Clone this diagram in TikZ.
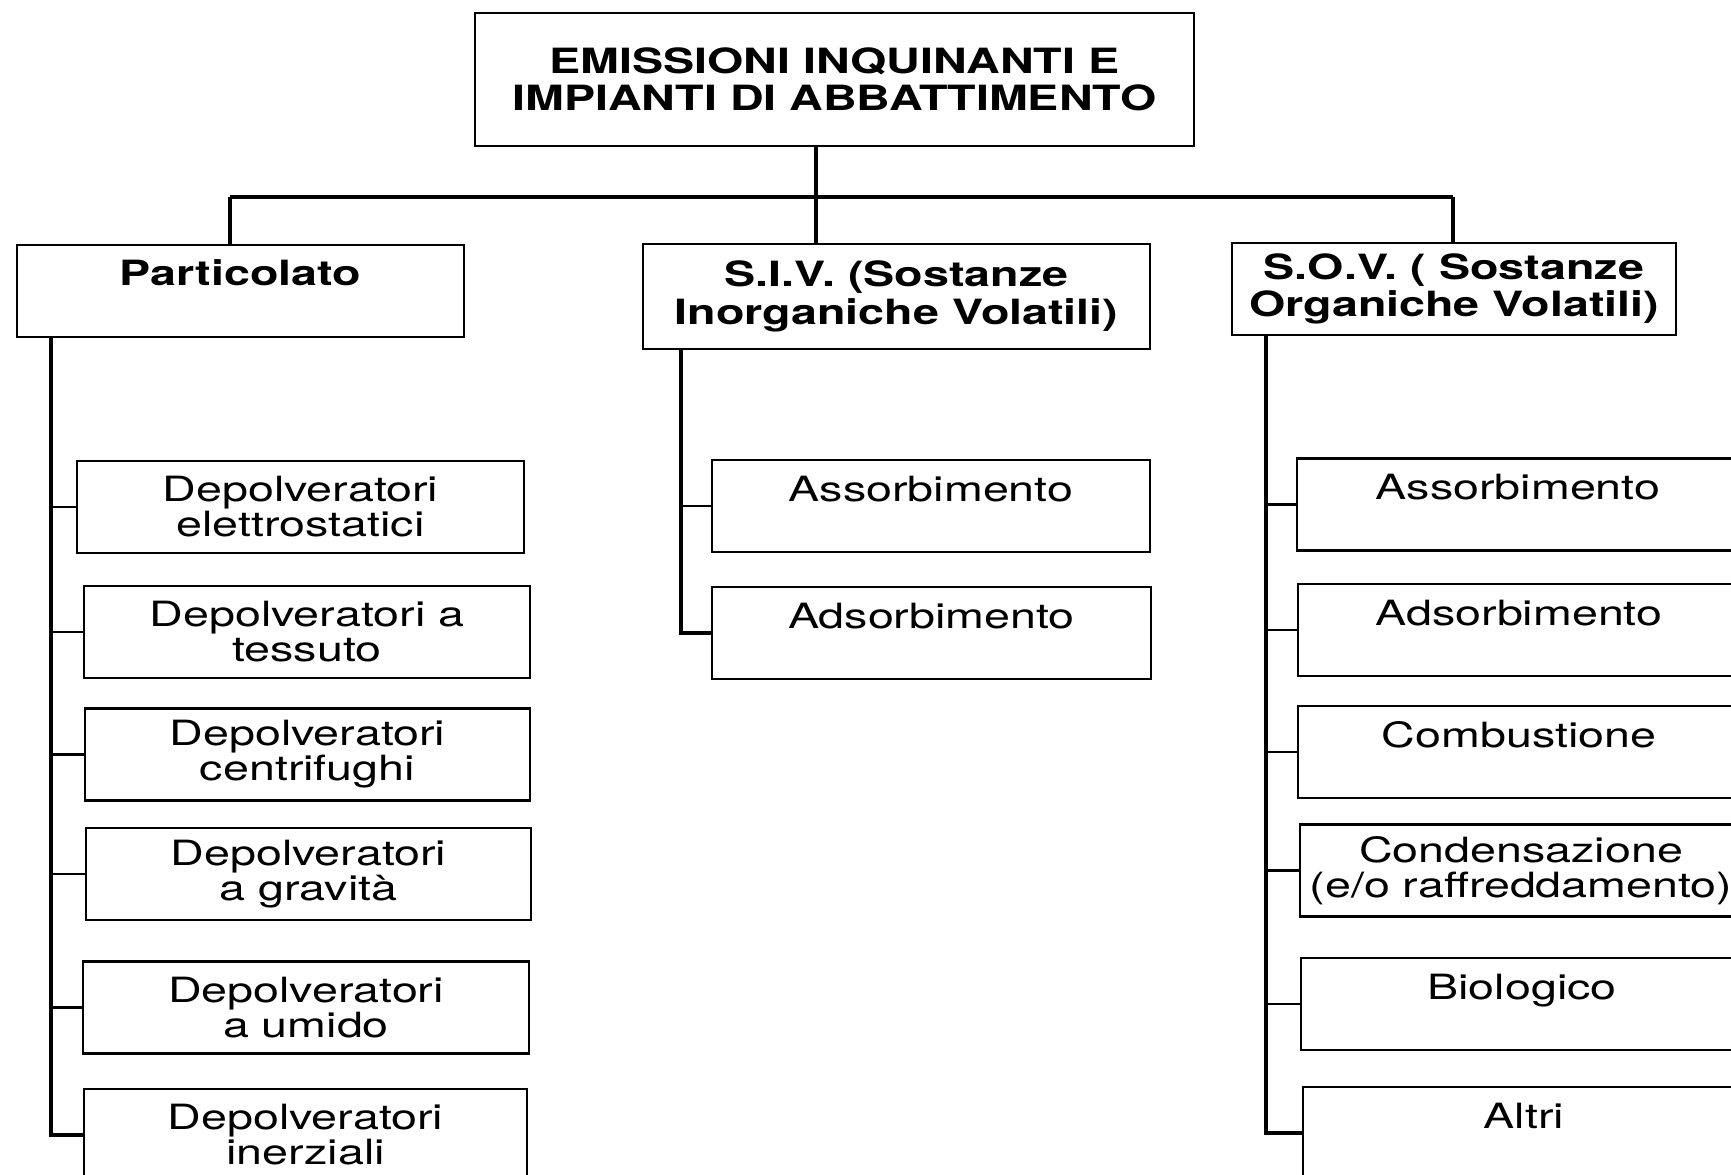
\documentclass[tikz,border=0pt]{standalone}
\usepackage{fontspec}
\setmainfont{TeX Gyre Heros}[FakeStretch=1.34]
\usetikzlibrary{calc}

\begin{document}
\begin{tikzpicture}[
    box/.style={draw, line width=0.6pt, inner sep=0pt, minimum height=0.92cm, align=center, font=\fontsize{9.9}{10}\selectfont},
    onebox/.style={box, text height=0.41cm, text depth=0.51cm},
    head/.style={box, font=\fontsize{9.9}{10.6}\selectfont\bfseries},
    trunk/.style={line width=1pt},
    tick/.style={line width=0.6pt}]
    \useasboundingbox (0,0) rectangle (17.31,-11.75);
    \node[head, minimum width=7.19cm, minimum height=1.33cm] (top) at (8.345,-0.795) {EMISSIONI INQUINANTI E\\IMPIANTI DI ABBATTIMENTO};
    \node[head, text height=0.41cm, text depth=0.51cm, minimum width=4.47cm] (part) at (2.405,-2.91) {Particolato};
    \node[head, minimum width=5.07cm, minimum height=1.05cm] (siv) at (8.965,-2.965) {S.I.V. (Sostanze\\Inorganiche Volatili)};
    \node[head, minimum width=4.44cm] (sov) at (14.54,-2.89) {S.O.V. ( Sostanze\\Organiche Volatili)};
    \node[box, minimum width=4.47cm] (l1) at (3.005,-5.07) {Depolveratori\\elettrostatici};
    \node[box, minimum width=4.46cm] (l2) at (3.07,-6.32) {Depolveratori a\\tessuto};
    \node[box, minimum width=4.45cm] (l3) at (3.075,-7.545) {Depolveratori\\centrifughi};
    \node[box, minimum width=4.45cm] (l4) at (3.085,-8.74) {Depolveratori\\a gravità};
    \node[box, minimum width=4.46cm] (l5) at (3.06,-10.075) {Depolveratori\\a umido};
    \node[box, minimum width=4.43cm] (l6) at (3.055,-11.35) {Depolveratori\\inerziali};
    \node[onebox, minimum width=4.38cm] (m1) at (9.31,-5.06) {Assorbimento};
    \node[onebox, minimum width=4.39cm] (m2) at (9.315,-6.33) {Adsorbimento};
    \node[onebox, minimum width=4.42cm] (r1) at (15.18,-5.045) {Assorbimento};
    \node[onebox, minimum width=4.42cm] (r2) at (15.19,-6.30) {Adsorbimento};
    \node[onebox, minimum width=4.42cm] (r3) at (15.19,-7.52) {Combustione};
    \node[box, minimum width=4.42cm] (r4) at (15.21,-8.705) {Condensazione\\(e/o raffreddamento)};
    \node[onebox, minimum width=4.42cm] (r5) at (15.22,-10.04) {Biologico};
    \node[onebox, minimum width=4.42cm] (r6) at (15.24,-11.33) {Altri};
    \coordinate (busL) at (2.30,-1.97);
    \coordinate (busM) at (8.16,-1.97);
    \coordinate (busR) at (14.53,-1.97);
    \coordinate (pt) at (0.51,0);
    \coordinate (st) at (6.81,0);
    \coordinate (ot) at (12.66,0);
    \draw[trunk] (busL) to (busR);
    \draw[trunk] (busM |- top.south) to (busM |- siv.north);
    \draw[trunk] (busL) to (busL |- part.north);
    \draw[trunk] (busR) to (busR |- sov.north);
    \draw[trunk] (pt |- part.south) to (pt |- l6.west) to (l6.west);
    \foreach \b in {l1,l2,l3,l4,l5} \draw[tick] (pt |- \b.west) to (\b.west);
    \draw[trunk] (st |- siv.south) to (st |- m2.west) to (m2.west);
    \draw[tick] (st |- m1.west) to (m1.west);
    \draw[trunk] (ot |- sov.south) to (ot |- r6.west) to (r6.west);
    \foreach \b in {r1,r2,r3,r4,r5} \draw[tick] (ot |- \b.west) to (\b.west);
\end{tikzpicture}
\end{document}
